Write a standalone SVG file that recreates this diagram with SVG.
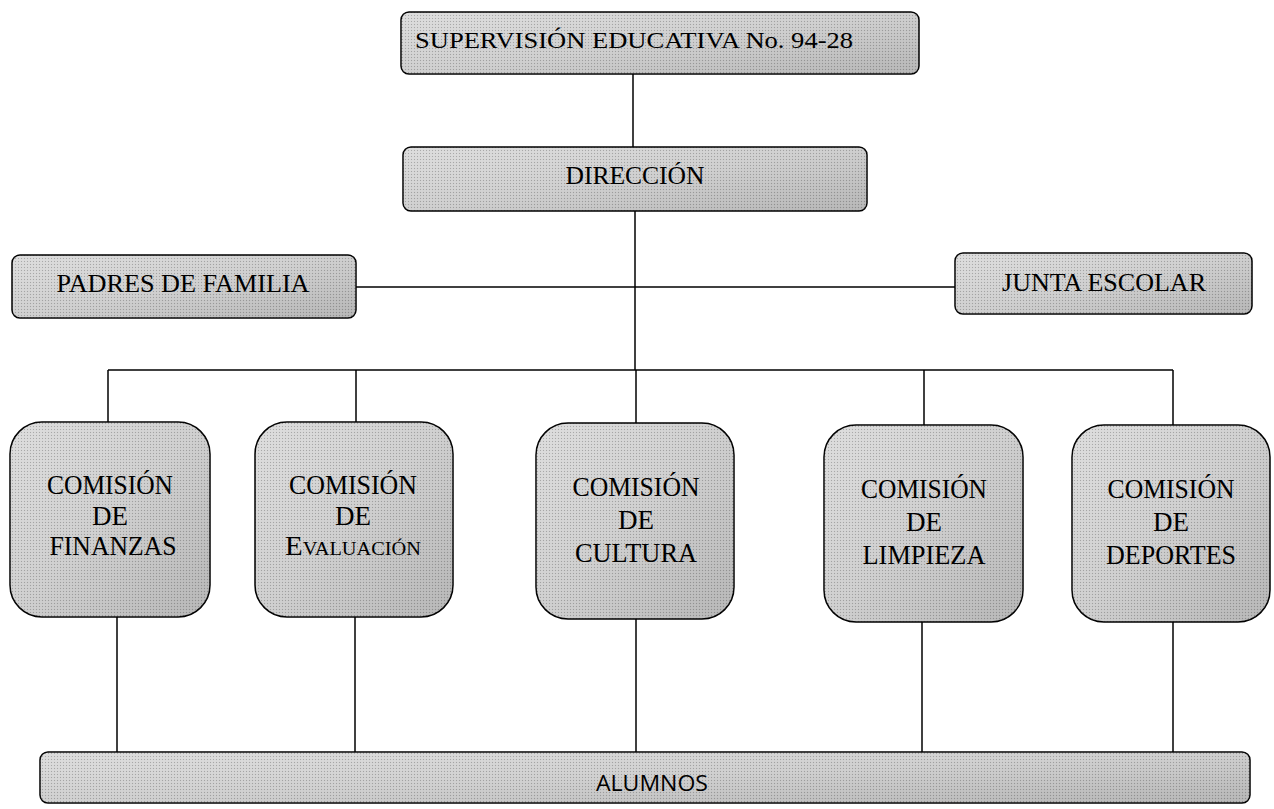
<svg xmlns="http://www.w3.org/2000/svg" width="1274" height="809" viewBox="0 0 1274 809">
<defs>
<linearGradient id="g" x1="0" y1="0" x2="1" y2="1">
<stop offset="0" stop-color="#dcdcdc"/>
<stop offset="0.5" stop-color="#cdcdcd"/>
<stop offset="1" stop-color="#b3b3b3"/>
</linearGradient>
<pattern id="dots" width="3" height="3" patternUnits="userSpaceOnUse">
<rect x="0" y="0" width="1" height="1" fill="#000" fill-opacity="0.22"/>
<rect x="1.5" y="1.5" width="1" height="1" fill="#fff" fill-opacity="0.25"/>
</pattern>
</defs>
<style>
.box{fill:url(#g);stroke:#000;stroke-width:1.5}
.tex{fill:url(#dots);stroke:none}
.t{font-family:"Liberation Serif",serif;fill:#000;text-anchor:middle}
.s{font-family:"Open Sans","Liberation Sans",sans-serif;fill:#000;text-anchor:middle}
.c{fill:none;stroke:#000;stroke-width:1.5}
</style>
<g id="connectors">
<path class="c" d="M633 74V147"/>
<path class="c" d="M635 211V370"/>
<path class="c" d="M356 287H955"/>
<path class="c" d="M108 370H1173"/>
<path class="c" d="M108 370V422"/>
<path class="c" d="M356 370V422"/>
<path class="c" d="M636 370V423"/>
<path class="c" d="M924 370V425"/>
<path class="c" d="M1173 370V425"/>
<path class="c" d="M117 617V752"/>
<path class="c" d="M355 617V752"/>
<path class="c" d="M636 619V752"/>
<path class="c" d="M922 622V752"/>
<path class="c" d="M1173 622V752"/>
</g>
<g id="n-supervision">
<rect class="box" x="401" y="12" width="518" height="62" rx="8"/>
<rect class="tex" x="401" y="12" width="518" height="62" rx="8"/>
<text class="t" x="634" y="48" font-size="24" textLength="438" lengthAdjust="spacingAndGlyphs">SUPERVISIÓN EDUCATIVA No. 94-28</text>
</g>
<g id="n-direccion">
<rect class="box" x="403" y="147" width="464" height="64" rx="8"/>
<rect class="tex" x="403" y="147" width="464" height="64" rx="8"/>
<text class="t" x="635" y="184" font-size="25" textLength="139" lengthAdjust="spacingAndGlyphs">DIRECCIÓN</text>
</g>
<g id="n-padres">
<rect class="box" x="12" y="255" width="344" height="63" rx="8"/>
<rect class="tex" x="12" y="255" width="344" height="63" rx="8"/>
<text class="t" x="183" y="292" font-size="26" textLength="253" lengthAdjust="spacingAndGlyphs">PADRES DE FAMILIA</text>
</g>
<g id="n-junta">
<rect class="box" x="955" y="253" width="297" height="61" rx="8"/>
<rect class="tex" x="955" y="253" width="297" height="61" rx="8"/>
<text class="t" x="1104" y="291" font-size="26" textLength="204" lengthAdjust="spacingAndGlyphs">JUNTA ESCOLAR</text>
</g>
<g id="n-finanzas">
<rect class="box" x="10" y="422" width="200" height="195" rx="32"/>
<rect class="tex" x="10" y="422" width="200" height="195" rx="32"/>
<text class="t" x="110" y="494" font-size="27" textLength="126" lengthAdjust="spacingAndGlyphs">COMISIÓN</text>
<text class="t" x="110" y="525" font-size="27">DE</text>
<text class="t" x="113" y="555" font-size="27" textLength="127" lengthAdjust="spacingAndGlyphs">FINANZAS</text>
</g>
<g id="n-evaluacion">
<rect class="box" x="255" y="422" width="198" height="195" rx="32"/>
<rect class="tex" x="255" y="422" width="198" height="195" rx="32"/>
<text class="t" x="353" y="494" font-size="27" textLength="128" lengthAdjust="spacingAndGlyphs">COMISIÓN</text>
<text class="t" x="353" y="525" font-size="27">DE</text>
<text class="t" x="353" y="555" font-size="27" font-variant="small-caps" textLength="136" lengthAdjust="spacingAndGlyphs">Evaluación</text>
</g>
<g id="n-cultura">
<rect class="box" x="536" y="423" width="198" height="196" rx="32"/>
<rect class="tex" x="536" y="423" width="198" height="196" rx="32"/>
<text class="t" x="636" y="496" font-size="27" textLength="127" lengthAdjust="spacingAndGlyphs">COMISIÓN</text>
<text class="t" x="636" y="529" font-size="27">DE</text>
<text class="t" x="636" y="562" font-size="27" textLength="122" lengthAdjust="spacingAndGlyphs">CULTURA</text>
</g>
<g id="n-limpieza">
<rect class="box" x="824" y="425" width="199" height="197" rx="32"/>
<rect class="tex" x="824" y="425" width="199" height="197" rx="32"/>
<text class="t" x="924" y="498" font-size="27" textLength="126" lengthAdjust="spacingAndGlyphs">COMISIÓN</text>
<text class="t" x="924" y="531" font-size="27">DE</text>
<text class="t" x="924" y="564" font-size="27" textLength="123" lengthAdjust="spacingAndGlyphs">LIMPIEZA</text>
</g>
<g id="n-deportes">
<rect class="box" x="1072" y="425" width="198" height="197" rx="32"/>
<rect class="tex" x="1072" y="425" width="198" height="197" rx="32"/>
<text class="t" x="1171" y="498" font-size="27" textLength="127" lengthAdjust="spacingAndGlyphs">COMISIÓN</text>
<text class="t" x="1171" y="531" font-size="27">DE</text>
<text class="t" x="1171" y="564" font-size="27" textLength="130" lengthAdjust="spacingAndGlyphs">DEPORTES</text>
</g>
<g id="n-alumnos">
<rect class="box" x="40" y="752" width="1210" height="51" rx="8"/>
<rect class="tex" x="40" y="752" width="1210" height="51" rx="8"/>
<text class="s" x="652" y="791" font-size="22" textLength="112" lengthAdjust="spacingAndGlyphs">ALUMNOS</text>
</g>
</svg>
